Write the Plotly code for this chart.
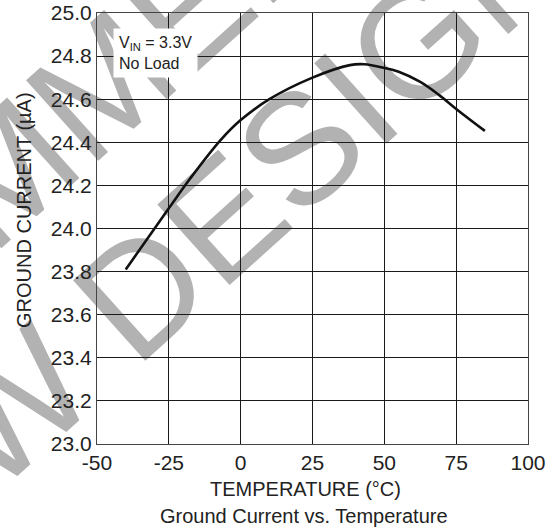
import base64
import plotly.graph_objects as go

# ---- data ----
temperature_c = [-40, -25, -17.5, -7, 0, 10, 25, 38, 43, 50, 55, 62.5, 69, 75, 85]
ground_current_ua = [23.81, 24.094, 24.233, 24.41, 24.503, 24.60, 24.70,
                     24.758, 24.762, 24.745, 24.727, 24.68, 24.62, 24.555, 24.453]
x_ticks = [-50, -25, 0, 25, 50, 75, 100]
y_ticks = [23.0, 23.2, 23.4, 23.6, 23.8, 24.0, 24.2, 24.4, 24.6, 24.8, 25.0]
x_title = "TEMPERATURE (°C)"
y_title = "GROUND CURRENT (µA)"
caption = "Ground Current vs. Temperature"
condition_text = "V<sub>IN</sub> = 3.3V<br>No Load"
watermark_lines = ["NOT RECOMMENDED FOR", "NEW DESIGNS"]

W, H = 547, 529
ML, MR, MT, MB = 97, 19, 13, 85
PW, PH = W - ML - MR, H - MT - MB
FONT = "Arial, Liberation Sans, sans-serif"

fig = go.Figure()
fig.add_trace(go.Scatter(
    x=temperature_c, y=ground_current_ua, mode="lines",
    line=dict(color="#111111", width=2.6, shape="spline", smoothing=1.0),
    hoverinfo="skip",
))

# watermark (drawn below the grid)
cx, cy, dy = 246, 270, 180
svg = (
    f'<svg xmlns="http://www.w3.org/2000/svg" width="{W}" height="{H}">'
    f'<g transform="translate({cx},{cy}) rotate(-42)" font-family="Liberation Sans, Arial, sans-serif" '
    f'font-size="157" fill="#b2b2b2" text-anchor="middle">'
    f'<text x="0" y="{-dy}">{watermark_lines[0]}</text>'
    f'<text x="0" y="0">{watermark_lines[1]}</text>'
    f'</g></svg>'
)
src = "data:image/svg+xml;base64," + base64.b64encode(svg.encode("utf-8")).decode("ascii")
fig.add_layout_image(dict(
    source=src, xref="paper", yref="paper",
    x=-ML / PW, y=1 + MT / PH, sizex=W / PW, sizey=H / PH,
    xanchor="left", yanchor="top", sizing="stretch", layer="below",
))

axis_common = dict(
    showgrid=True, gridcolor="#1a1a1a", gridwidth=1,
    showline=True, linecolor="#444444", linewidth=1.2, mirror=True,
    zeroline=False, ticks="", automargin=False,
    tickfont=dict(family=FONT, size=21, color="#222222"),
)
fig.update_xaxes(range=[-50, 100], tickvals=x_ticks, ticktext=[str(v) for v in x_ticks], **axis_common)
fig.update_yaxes(range=[23.0, 25.0], tickvals=y_ticks, ticktext=[f"{v:.1f}" for v in y_ticks], **axis_common)

fig.add_annotation(
    text=condition_text, xref="paper", yref="paper",
    x=(113 - ML) / PW, y=1 - (28 - MT) / PH, xanchor="left", yanchor="top",
    align="left", showarrow=False, bgcolor="white", borderpad=5,
    font=dict(family=FONT, size=16, color="#222222"),
)
fig.add_annotation(
    text=x_title, xref="paper", yref="paper",
    x=(305 - ML) / PW, y=(MT + PH - 489) / PH, xanchor="center", yanchor="middle",
    showarrow=False, font=dict(family=FONT, size=20, color="#222222"),
)
fig.add_annotation(
    text=caption, xref="paper", yref="paper",
    x=(304 - ML) / PW, y=(MT + PH - 516) / PH, xanchor="center", yanchor="middle",
    showarrow=False, font=dict(family=FONT, size=20, color="#222222"),
)
fig.add_annotation(
    text=y_title, xref="paper", yref="paper", textangle=-90,
    x=(24 - ML) / PW, y=(MT + PH - 210) / PH, xanchor="center", yanchor="middle",
    showarrow=False, font=dict(family=FONT, size=20, color="#222222"),
)

fig.update_layout(
    width=W, height=H, margin=dict(l=ML, r=MR, t=MT, b=MB, autoexpand=False),
    paper_bgcolor="white", plot_bgcolor="rgba(0,0,0,0)", showlegend=False,
)
fig.write_html("out.html")
